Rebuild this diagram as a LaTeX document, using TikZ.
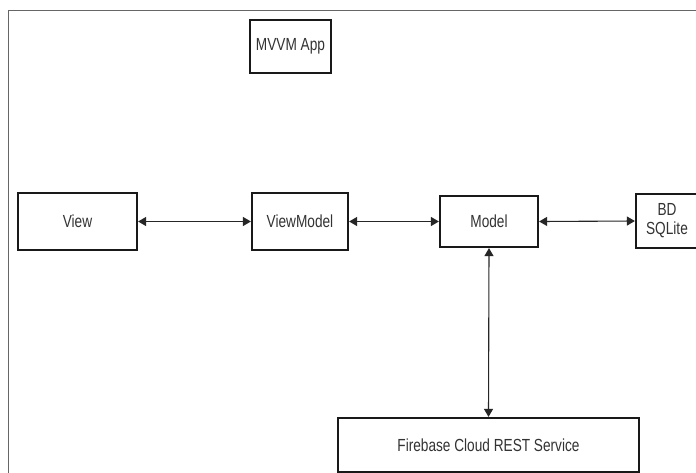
\documentclass[tikz,border=0pt]{standalone}
\usepackage{fontspec}
\setmainfont{Liberation Sans}[FakeStretch=0.78]
\usetikzlibrary{arrows.meta}
\begin{document}
\begin{tikzpicture}[x=1pt,y=-1pt,
  box/.style={draw=black!90,line width=2.2pt,fill=white,inner sep=0pt,align=center,
    font=\fontsize{17.5}{19}\selectfont,text=black!80},
  link/.style={{Triangle[length=8pt,width=9pt]}-{Triangle[length=8pt,width=9pt]},line width=1.1pt,black!85}]
\useasboundingbox (0,0) rectangle (696,472);
\clip (0,0) rectangle (696,472);
\fill[white] (0,0) rectangle (696,472);
\draw[black!60,line width=0.8pt] (8,480) -- (8,10) -- (710,10);
\node[box,minimum width=81pt,minimum height=53pt] (app) at (290.5,46.5) {MVVM App};
\node[box,minimum width=119pt,minimum height=57pt] (view) at (77.5,221.5) {View};
\node[box,minimum width=96pt,minimum height=57pt] (vm) at (300,221.5) {ViewModel};
\node[box,minimum width=98pt,minimum height=51pt] (model) at (489,221.5) {Model};
\node[box,minimum width=62pt,minimum height=54pt] (bd) at (667,221) {BD\\SQLite};
\node[box,minimum width=301pt,minimum height=54pt] (fb) at (488.5,445) {Firebase Cloud REST Service};
\draw[link] (view.east) -- (vm.west);
\draw[link] (vm.east) -- (model.west);
\draw[link] (model.east) -- (bd.west);
\draw[link] (model.south) -- (fb.north);
\end{tikzpicture}
\end{document}
